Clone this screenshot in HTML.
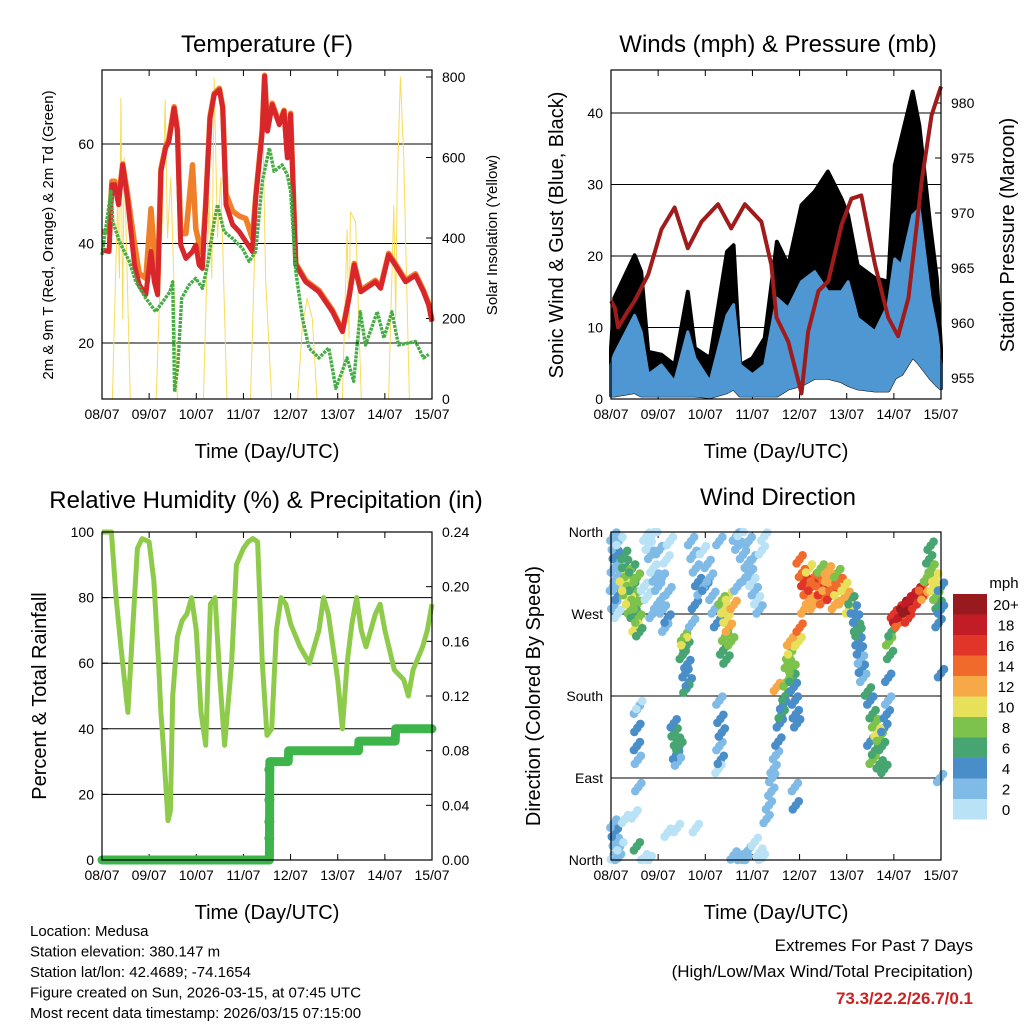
<!DOCTYPE html>
<html><head><meta charset="utf-8"><style>
html,body{margin:0;padding:0;background:#fff}
svg{display:block;font-family:"Liberation Sans",sans-serif}
</style></head><body>
<svg id="s" width="1024" height="1024" viewBox="0 0 1024 1024" xmlns="http://www.w3.org/2000/svg"></svg>
<script>
// ---------- DATA ----------
const dayLabels=["08/07","09/07","10/07","11/07","12/07","13/07","14/07","15/07"];
const tT=[0,0.15,0.21,0.27,0.35,0.44,0.54,0.69,0.79,0.93,1.04,1.11,1.18,1.25,1.35,1.42,1.53,1.6,1.67,1.78,1.92,1.99,2.06,2.13,2.2,2.29,2.38,2.49,2.56,2.63,2.77,2.91,3.05,3.19,3.26,3.4,3.45,3.51,3.61,3.76,3.86,3.93,4.0,4.11,4.32,4.6,4.89,5.1,5.24,5.35,5.49,5.8,5.91,6.08,6.22,6.44,6.65,6.82,6.93,7.0];
const temp2m=[38.7,38.4,51.8,51.8,47.8,55.8,49,35.7,31.7,29.7,38.4,32.3,29.7,54.5,59.2,60.5,67.2,62.6,39.7,37,38.4,39.7,35.7,35,47.8,65.2,69.9,70.9,67.2,47.8,43.8,42.4,40.4,38.4,49.1,62.6,73.6,62.6,67.9,63.9,66.6,57.2,65.9,35.7,32.3,30.3,26.3,22.3,29,35.7,30.3,32.3,31,37.7,35.7,32.3,33.6,30.3,27.6,24.3];
const temp9m=[42.4,42.4,52.5,52.5,49,56,50,40,34,33,47,38,32,55,59.5,61,67.5,63,42,42,55.8,43,40,38,48,65.5,70.2,71.2,67.5,50,46.5,45.5,45,41,49.5,63,73.8,63,68.2,64.2,66.8,58,66.2,36,32.6,30.6,26.6,22.5,29.3,36,30.6,32.6,31.3,38,36,32.6,33.9,30.6,27.9,24.6];
const tD=[0,0.19,0.23,0.37,0.58,0.72,0.93,1.14,1.44,1.5,1.54,1.61,1.69,1.85,1.99,2.13,2.24,2.38,2.45,2.59,2.77,2.98,3.12,3.26,3.4,3.55,3.65,3.82,3.93,4.0,4.11,4.25,4.39,4.6,4.81,4.96,5.2,5.34,5.48,5.59,5.84,5.98,6.15,6.29,6.65,6.82,6.93];
const dewpt=[37.7,50.5,44.4,40.4,36.4,32.3,29,26.3,30.3,32.3,10.2,15.6,29,31.7,33,31,35.7,44.4,47.8,42.4,41,39,36.4,38.4,52.5,59.2,54.5,55.8,53.8,50.5,34.4,25,19,17,19,10.9,17,12.3,26.3,19.6,26.3,21,26.3,19.6,20.3,17,17.7];
const tS=[0,0.22,0.33,0.37,0.4,0.44,0.47,0.6,1.15,1.28,1.34,1.39,1.46,1.6,2.15,2.27,2.33,2.38,2.45,2.52,2.65,3.15,3.26,3.33,3.4,3.47,3.6,4.15,4.25,4.35,4.46,4.56,5.1,5.2,5.24,5.27,5.38,5.5,6.08,6.19,6.23,6.26,6.33,6.4,6.52,7.0];
const solar=[0,0,500,300,747,200,600,0,0,450,743,400,550,0,0,500,300,797,400,550,0,0,450,640,763,300,0,0,180,250,200,0,0,420,150,465,440,0,0,480,200,520,800,600,0,0];
const tW=[0,0.07,0.5,0.64,0.79,1.07,1.35,1.63,1.78,2.1,2.46,2.6,2.74,3.0,3.26,3.52,3.76,4.04,4.32,4.6,4.89,5.03,5.23,5.6,5.88,6.02,6.16,6.4,6.54,6.77,6.91,7.0];
const windHi=[4.75,6.2,11.7,9.4,3.4,4.75,2.4,9.4,5.7,2.4,11.7,13.2,4.75,3.4,4.75,14.1,12.7,16.4,17.8,15,15,16.4,11.3,9.4,13.2,19.6,18.7,25.7,26.6,14.1,9.4,4.75];
const windLo=[0.5,0.5,1,0.5,0.5,0.5,0.5,0.5,0.5,0.3,1,1.5,0.5,0.5,0.5,0.5,1.5,2,3,3,2.5,2,1.5,1.2,1.2,3,3.5,6,5,3,2,1.5];
const gust=[7.1,14.1,20.1,17.8,6.6,6.2,4.75,15,7.1,5.7,20.6,21.5,4.75,5.7,8.5,22,18.7,27.1,29,31.8,28,25.7,18.7,16.9,16.4,32.7,36.5,43,38.3,24.3,16.9,7.1];
const tP=[0,0.08,0.15,0.36,0.5,0.79,1.07,1.35,1.63,1.92,2.27,2.55,2.84,3.19,3.4,3.51,3.76,4.04,4.18,4.4,4.61,4.89,5.1,5.31,5.6,5.88,6.09,6.31,6.59,6.8,7.0];
const pressure=[962,961.4,959.6,961.1,962,964.4,968.5,970.5,966.8,969.2,970.8,968.6,970.8,969.2,965.3,960.5,958.3,953.6,959.2,962.9,963.8,968.9,971.3,971.6,965.3,960.5,958.8,962.3,972.9,978.9,981.5];
const tR=[0,0.2,0.3,0.4,0.55,0.65,0.75,0.85,1.0,1.1,1.2,1.25,1.3,1.4,1.45,1.5,1.6,1.7,1.8,1.9,2.0,2.1,2.2,2.3,2.4,2.5,2.6,2.75,2.85,3.0,3.1,3.2,3.3,3.4,3.5,3.6,3.7,3.8,3.9,4.0,4.2,4.4,4.6,4.7,4.8,4.9,5.0,5.1,5.2,5.3,5.4,5.5,5.6,5.8,5.9,6.0,6.2,6.4,6.5,6.6,6.8,6.9,7.0];
const rh=[100,100,80,65,45,70,95,98,97,85,60,45,35,12,15,50,68,73,75,80,70,45,35,78,80,55,35,60,90,95,97,98,97,60,38,40,70,80,78,72,65,60,70,80,75,65,55,40,60,72,80,70,65,75,78,70,58,55,50,58,65,70,78];
const tRain=[0,3.55,3.56,3.95,3.96,5.44,5.45,6.22,6.23,7.0];
const rain=[0,0,0.072,0.072,0.080,0.080,0.087,0.087,0.096,0.096];
const tRainDots=[3.55,3.55,3.55,3.55];
const rainDots=[0.016,0.028,0.044,0.066];
const dirPts=[[0.05,355,3],[0.08,345,2],[0.1,335,4],[0.06,320,3],[0.12,310,2],[0.09,300,3],[0.15,290,4],[0.07,280,2],[0.18,350,1],[0.2,325,3],[0.04,300,2],[0.14,270,1],
[0.28,335,6],[0.3,325,7],[0.35,315,9],[0.25,310,10],[0.4,305,8],[0.45,300,7],[0.32,295,8],[0.5,290,9],[0.38,285,10],[0.55,280,8],[0.42,275,9],[0.48,270,7],[0.58,265,8],[0.52,255,10],[0.6,250,6],[0.3,300,11],[0.45,320,6],[0.55,310,8],
[0.75,355,1],[0.8,345,0],[0.85,335,2],[0.9,320,1],[0.95,310,2],[1.0,300,3],[0.78,290,1],[1.05,285,3],[1.1,275,3],[0.88,270,2],[1.2,265,4],[1.15,255,3],[1.25,350,1],[1.18,330,0],[0.92,360,1],[1.02,340,2],[0.7,300,1],[1.08,310,3],[1.22,295,2],[0.98,280,3],
[1.55,245,8],[1.6,235,7],[1.52,225,6],[1.62,215,5],[1.58,205,4],[1.65,195,5],[1.6,188,6],[1.55,240,10],
[1.7,350,3],[1.75,335,2],[1.8,320,3],[1.85,305,4],[1.9,295,3],[2.0,300,4],[2.1,310,2],[2.15,290,3],[2.2,275,3],[2.25,260,4],[1.95,340,1],[2.05,325,3],[1.78,280,4],[2.3,350,2],[1.72,260,3],
[2.35,285,8],[2.4,275,10],[2.45,265,11],[2.5,255,12],[2.42,245,9],[2.55,240,8],[2.38,230,7],[2.45,220,6],[2.5,290,10],[2.6,280,12],
[2.65,355,2],[2.7,345,3],[2.8,335,2],[2.9,325,3],[2.95,315,2],[3.0,305,1],[3.05,295,2],[3.1,285,1],[3.15,275,2],[2.75,360,1],[2.85,310,3],[3.2,340,1],[3.25,355,1],[2.68,300,3],[3.0,330,2],[2.92,350,2],
[0.05,40,3],[0.08,30,4],[0.1,20,2],[0.12,10,3],[0.06,5,1],[0.15,2,2],[0.2,15,1],[0.3,45,1],[0.5,50,1],[0.7,2,1],[0.8,0,0],[1.2,30,1],[1.4,35,1],[1.8,35,1],[2.6,5,2],[2.75,2,3],[2.9,10,2],[3.05,20,1],[3.15,8,1],[3.2,2,1],[2.85,0,2],[0.55,15,6],
[0.55,165,3],[0.56,145,4],[0.55,125,4],[0.57,110,3],[0.6,170,1],[0.58,80,2],[1.35,140,6],[1.4,130,6],[1.45,125,7],[1.38,115,4],[1.42,108,3],[1.33,150,4],
[2.3,175,3],[2.32,155,4],[2.35,140,4],[2.3,125,3],[2.33,110,4],[2.28,100,1],
[3.3,45,2],[3.35,60,2],[3.4,75,3],[3.42,90,3],[3.45,100,3],[3.5,115,3],[3.55,130,4],[3.58,150,4],[3.62,160,6],[3.65,170,5],[3.7,180,7],[3.72,195,8],[3.75,215,9],[3.78,225,8],[3.82,230,10],[3.85,200,6],[3.88,190,4],[3.9,175,4],[3.92,160,4],[3.95,150,4],[3.98,240,10],[4.0,255,14],[3.52,190,12],[3.8,240,12],[3.9,80,3],[3.92,60,4],[3.85,210,8],
[4.0,330,14],[4.05,315,14],[4.1,305,16],[4.15,295,14],[4.2,285,12],[4.25,300,16],[4.3,310,14],[4.35,290,12],[4.4,305,14],[4.45,295,16],[4.5,285,14],[4.55,300,12],[4.6,310,13],[4.65,290,16],[4.7,300,14],[4.75,280,12],[4.8,295,10],[4.85,305,14],[4.9,285,12],[4.95,300,10],[5.0,290,12],[5.05,275,10],[4.2,320,10],[4.45,320,9],[4.6,318,12],[4.1,275,12],[4.3,280,13],[4.8,315,8],
[5.1,285,6],[5.15,275,5],[5.2,265,4],[5.22,255,6],[5.25,240,5],[5.28,230,4],[5.3,220,3],[5.32,210,4],[5.35,200,3],[5.25,250,7],
[5.45,185,6],[5.5,175,5],[5.55,160,7],[5.6,150,8],[5.65,140,10],[5.7,135,8],[5.75,125,7],[5.6,120,6],[5.8,145,5],[5.85,160,4],[5.88,175,3],[5.55,110,8],[5.7,105,7],[5.8,100,6],[5.5,130,5],
[5.9,240,8],[5.95,250,7],[5.92,225,6],[5.88,200,4],
[6.0,270,16],[6.05,265,18],[6.1,275,16],[6.15,270,18],[6.2,280,20],[6.25,275,20],[6.3,285,18],[6.35,278,20],[6.4,290,18],[6.45,280,16],[6.5,295,18],[6.55,285,16],[6.6,300,14],[6.65,290,12],[6.1,260,14],[6.3,265,16],
[6.7,310,8],[6.75,330,6],[6.8,320,8],[6.85,300,10],[6.9,290,8],[6.95,280,6],[7.0,275,4],[6.78,345,6],[6.88,310,10],[7.0,205,4],[6.98,90,3],[6.95,260,4],[7.0,300,5]];
const spdColors=["#b9e2f7","#7fbbe6","#4a8ec9","#47a571","#7cc24c","#e6e05a","#f7a948","#f06a2c","#e03528","#c21d26","#991a1e"];
const spdLabels=["0","2","4","6","8","10","12","14","16","18","20+"];

// ---------- HELPERS ----------
const S=document.getElementById('s');const NS="http://www.w3.org/2000/svg";
function el(tag,at,parent){const e=document.createElementNS(NS,tag);for(const k in at)e.setAttribute(k,at[k]);(parent||S).appendChild(e);return e;}
function txt(x,y,s,size,anchor,extra){const e=el('text',Object.assign({x:x,y:y,'font-size':size,'text-anchor':anchor||'middle',fill:'#000'},extra||{}));e.textContent=s;return e;}
function lin(d0,d1,p0,p1){return v=>p0+(v-d0)/(d1-d0)*(p1-p0);}
function poly(ts,vs,sx,sy,stroke,w,name){const p=ts.map((t,i)=>sx(t).toFixed(1)+','+sy(vs[i]).toFixed(1)).join(' ');const e=el('polyline',{points:p,fill:'none',stroke:stroke,'stroke-width':w,'stroke-linejoin':'round'});return e;}
function band(ts,hi,lo,sx,sy,fill,sw,name){
  const up=ts.map((t,i)=>sx(t).toFixed(1)+','+sy(hi[i]).toFixed(1));
  const dn=ts.map((t,i)=>sx(t).toFixed(1)+','+sy(lo[i]).toFixed(1)).reverse();
  const e=el('polygon',{points:up.concat(dn).join(' '),fill:fill,stroke:fill,'stroke-width':sw,'stroke-linejoin':'round'});
  return e;
}
function frame(x0,y0,x1,y1){
  const r=el('rect',{x:x0,y:y0,width:x1-x0,height:y1-y0,fill:'none',stroke:'#000','stroke-width':1.2});
  
  
}
function xAxis(x0,x1,y0,y1){
  const sx=lin(0,7,x0,x1);
  dayLabels.forEach((l,i)=>{
    const x=sx(i);
    el('line',{x1:x,y1:y1,x2:x,y2:y1-6,stroke:'#000','stroke-width':1});
    el('line',{x1:x,y1:y0,x2:x,y2:y0+6,stroke:'#000','stroke-width':1});
    const t=txt(x,y1+20,l,14);
    
    
  });
  const a=txt((x0+x1)/2,y1+59,"Time (Day/UTC)",20);
  
  
  return sx;
}
function yTicks(vals,labels,sy,x0,x1,side,grid){
  vals.forEach((v,i)=>{
    const y=sy(v);
    if(grid) el('line',{x1:x0,y1:y,x2:x1,y2:y,stroke:'#000','stroke-width':1});
    if(side==='left'){el('line',{x1:x0,y1:y,x2:x0+6,y2:y,stroke:'#000'});const t=txt(x0-8,y+5,labels[i],14,'end');}
    else {el('line',{x1:x1,y1:y,x2:x1-6,y2:y,stroke:'#000'});const t=txt(x1+10,y+5,labels[i],14,'start');}
  });
}
function vtitle(x,y,s,size,name){const t=txt(x,y,s,size,'middle',{transform:`rotate(-90 ${x} ${y})`});}

// ---------- PANEL 1: TEMPERATURE ----------
(function(){
  const X0=102,X1=432,Y0=70,Y1=399;
  const sx=xAxis(X0,X1,Y0,Y1);
  const sy=lin(20,60,343,144);
  const sy2=lin(0,800,399,77);
  yTicks([20,40,60],["20","40","60"],sy,X0,X1,'left',true);
  yTicks([0,200,400,600,800],["0","200","400","600","800"],sy2,X0,X1,'right',false);
  poly(tS,solar,sx,sy2,'#f7dc5a',1,'solar-insolation-line');
  poly(tT,temp9m,sx,sy,'#f07f2a',5.5,'temp-9m-line');
  poly(tT,temp2m,sx,sy,'#d8262a',5,'temp-2m-line');
  const dl=poly(tD,dewpt,sx,sy,'#46ac45',3.4,'dewpoint-line');dl.setAttribute('stroke-dasharray','3 1');
  frame(X0,Y0,X1,Y1);
  const t=txt(267,52,"Temperature (F)",24);
  vtitle(53,235,"2m & 9m T (Red, Orange) & 2m Td (Green)",15,'temp-y-axis-title');
  vtitle(497,235,"Solar Insolation (Yellow)",15,'solar-y-axis-title');
})();

// ---------- PANEL 2: WINDS ----------
(function(){
  const X0=611,X1=941,Y0=70,Y1=399;
  const sx=xAxis(X0,X1,Y0,Y1);
  const sy=lin(0,40,399,113);
  const sy2=lin(955,980,378,103);
  yTicks([0,10,20,30,40],["0","10","20","30","40"],sy,X0,X1,'left',true);
  yTicks([955,960,965,970,975,980],["955","960","965","970","975","980"],sy2,X0,X1,'right',false);
  band(tW,gust,windLo,sx,sy,'#000',4,'gust-scatter');
  band(tW,windHi,windLo,sx,sy,'#4f97d2',3,'sonic-wind-band');
  poly(tP,pressure,sx,sy2,'#a01c1c',4,'pressure-line');
  frame(X0,Y0,X1,Y1);
  const t=txt(778,52,"Winds (mph) & Pressure (mb)",24);
  vtitle(563,235,"Sonic Wind & Gust (Blue, Black)",20,'wind-y-axis-title');
  vtitle(1014,235,"Station Pressure (Maroon)",20,'pressure-y-axis-title');
})();

// ---------- PANEL 3: RH ----------
(function(){
  const X0=102,X1=432,Y0=532,Y1=860;
  const sx=xAxis(X0,X1,Y0,Y1);
  const sy=lin(0,100,860,532);
  const sy2=lin(0,0.24,860,532);
  yTicks([0,20,40,60,80,100],["0","20","40","60","80","100"],sy,X0,X1,'left',true);
  yTicks([0,0.04,0.08,0.12,0.16,0.2,0.24],["0.00","0.04","0.08","0.12","0.16","0.20","0.24"],sy2,X0,X1,'right',false);
  poly(tR,rh,sx,sy,'#8fcb4b',5,'relative-humidity-line');
  poly(tRain,rain,sx,sy2,'#3db54a',9,'precipitation-line').setAttribute('stroke-linecap','round');
  rainDots.forEach((v,i)=>{const c=el('circle',{cx:sx(tRainDots[i]),cy:sy2(v),r:5,fill:'#3db54a'});});
  frame(X0,Y0,X1,Y1);
  const t=txt(266,508,"Relative Humidity (%) & Precipitation (in)",24);
  vtitle(46,696,"Percent & Total Rainfall",20,'rh-y-axis-title');
})();

// ---------- PANEL 4: WIND DIRECTION ----------
(function(){
  const X0=611,X1=941,Y0=532,Y1=860;
  const sx=xAxis(X0,X1,Y0,Y1);
  const sy=lin(0,360,860,532);
  yTicks([0,90,180,270,360],["North","East","South","West","North"],sy,X0,X1,'left',true);
  const offs=[[0,0],[3,-4],[-3,4]];
  offs.forEach(o=>{
    dirPts.forEach(p=>{
      const c=el('circle',{cx:(sx(p[0])+o[0]).toFixed(1),cy:Math.min(860,Math.max(532,sy(p[1])+o[1])).toFixed(1),r:4.3,fill:spdColors[Math.min(10,Math.floor(p[2]/2))]});
      
      
    });
  });
  frame(X0,Y0,X1,Y1);
  const t=txt(778,505,"Wind Direction",24);
  vtitle(540,696,"Direction (Colored By Speed)",20,'direction-y-axis-title');
  const lt=txt(1004,588,"mph",15);
  for(let i=0;i<11;i++){
    const y=594+(10-i)*20.5;
    const r=el('rect',{x:953,y:y,width:34,height:20.5,fill:spdColors[i]});
    
    
    const l=txt(1006,y+16,spdLabels[i],15);
  }
})();

// ---------- FOOTER ----------
const info=["Location: Medusa","Station elevation: 380.147 m","Station lat/lon: 42.4689; -74.1654","Figure created on Sun, 2026-03-15, at 07:45 UTC","Most recent data timestamp: 2026/03/15 07:15:00"];
info.forEach((s,i)=>{const t=txt(30,936+i*20.5,s,15,'start');});
const e1=txt(973,951,"Extremes For Past 7 Days",17,'end');
const e2=txt(973,977,"(High/Low/Max Wind/Total Precipitation)",17,'end');
const e3=txt(973,1004,"73.3/22.2/26.7/0.1",17,'end',{fill:'#cc2222','font-weight':'bold'});
</script>
</body></html>
